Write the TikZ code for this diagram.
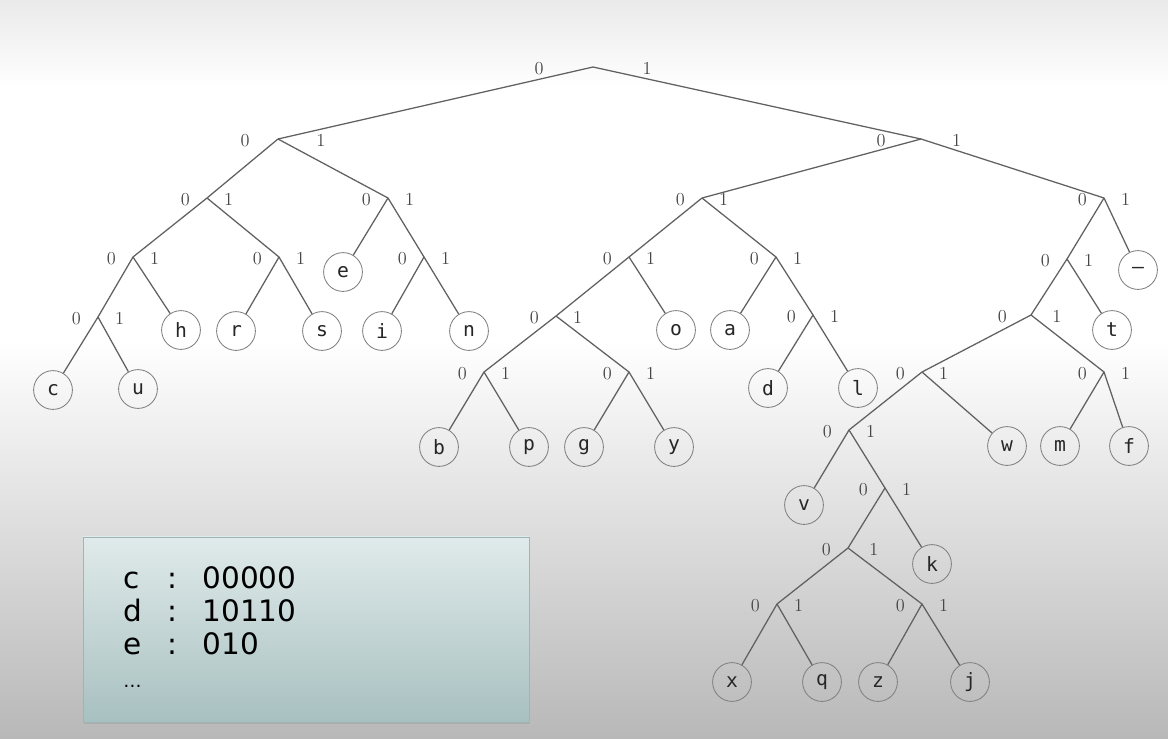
\documentclass[tikz,border=0pt]{standalone}
\usepackage{fontspec}
\newfontfamily\leaffont{DejaVu Sans Mono}
\newfontfamily\codefont{DejaVu Sans}
\usepackage{tikz}
\usetikzlibrary{shadows}

\definecolor{bgtop}{HTML}{EAEAEA}
\definecolor{bgbot}{HTML}{B8B8B8}
\definecolor{boxtop}{HTML}{E0EAEA}
\definecolor{boxbot}{HTML}{A8C0C0}
\definecolor{boxline}{HTML}{9DB5B5}

\begin{document}
\begin{tikzpicture}[x=0.025cm, y=-0.025cm,
    tree/.style={draw=black!62, line width=0.9pt, line join=round},
    leaf/.style={draw=black!50, circle, line width=0.6pt, minimum size=0.97cm, inner sep=0pt,
      text=black!85, font=\leaffont\fontsize{14}{14}\selectfont},
    bitlbl/.style={text=black!72, inner sep=1pt, yshift=-1pt, font=\fontsize{13}{13}\selectfont},
    junction/.style 2 args={label={[bitlbl, label distance=#1]left:0},
      label={[bitlbl, label distance=#2]right:1}},
    fork/.style={junction={11pt}{11pt}},
    codebox/.style={draw=boxline, line width=0.5pt, top color=boxtop, bottom color=boxbot,
      drop shadow={opacity=0.25, shadow xshift=1pt, shadow yshift=-1.2pt},
      minimum width=11.15cm, minimum height=4.625cm, inner sep=0pt}]
  \useasboundingbox (0,0) rectangle (1168,738);

  % Fondo
  \shade[top color=bgtop, bottom color=white] (0,0) rectangle (1168,88);
  \fill[white] (0,88) rectangle (1168,340);
  \shade[top color=white, bottom color=bgbot] (0,340) rectangle (1168,738);

  % Nodos internos
  \coordinate[junction={34pt}{34pt}] (root) at (593,67);
  \coordinate[junction={19pt}{26pt}] (n0) at (278,139);
  \coordinate[fork] (n00) at (207,198);
  \coordinate[fork] (n000) at (133,257);
  \coordinate[fork] (n0000) at (98,317);
  \coordinate[fork] (n001) at (279,257);
  \coordinate[fork] (n01) at (388,198);
  \coordinate[fork] (n011) at (424,257);
  \coordinate[junction={24pt}{21pt}] (n1) at (921,139);
  \coordinate[fork] (n10) at (702,198);
  \coordinate[fork] (n100) at (629,257);
  \coordinate[fork] (n1000) at (556,316);
  \coordinate[fork] (n10000) at (484,372);
  \coordinate[fork] (n10001) at (629,372);
  \coordinate[fork] (n101) at (776,257);
  \coordinate[fork] (n1011) at (813,315);
  \coordinate[fork] (n11) at (1104,198);
  \coordinate[fork] (n110) at (1067,259);
  \coordinate[junction={16pt}{14pt}] (n1100) at (1031,315);
  \coordinate[fork] (n11000) at (922,372);
  \coordinate[fork] (n11001) at (1104,372);
  \coordinate[fork] (n110000) at (849,430);
  \coordinate[fork] (n1100001) at (885,488);
  \coordinate[junction={11pt}{14pt}] (n11000010) at (848,548);
  \coordinate[fork] (n110000100) at (777,604);
  \coordinate[fork] (n110000101) at (922,604);

  % Hojas
  \node[leaf] (c) at (53,390) {c};
  \node[leaf] (u) at (138,389) {u};
  \node[leaf] (h) at (181,330) {h};
  \node[leaf] (r) at (236,331) {r};
  \node[leaf] (s) at (322,331) {s};
  \node[leaf] (e) at (343,272) {e};
  \node[leaf] (i) at (382,331) {i};
  \node[leaf] (n) at (469,331) {n};
  \node[leaf] (b) at (439,447) {b};
  \node[leaf] (p) at (529,447) {p};
  \node[leaf] (g) at (584,447) {g};
  \node[leaf] (y) at (674,447) {y};
  \node[leaf] (o) at (676,330) {o};
  \node[leaf] (a) at (730,330) {a};
  \node[leaf] (d) at (768,388) {d};
  \node[leaf] (l) at (858,388) {l};
  \node[leaf] (sp) at (1138,270) {—};
  \node[leaf] (t) at (1112,330) {t};
  \node[leaf] (w) at (1007,446) {w};
  \node[leaf] (m) at (1060,446) {m};
  \node[leaf] (f) at (1129,446) {f};
  \node[leaf] (v) at (804,505) {v};
  \node[leaf] (k) at (932,564) {k};
  \node[leaf] (x) at (732,682) {x};
  \node[leaf] (q) at (822,682) {q};
  \node[leaf] (z) at (878,682) {z};
  \node[leaf] (j) at (970,682) {j};

  % Aristas
  \draw[tree] (n0) -- (root) -- (n1);
  \draw[tree] (n00) -- (n0) -- (n01);
  \draw[tree] (n000) -- (n00) -- (n001);
  \draw[tree] (n0000) -- (n000) -- (h);
  \draw[tree] (c) -- (n0000) -- (u);
  \draw[tree] (r) -- (n001) -- (s);
  \draw[tree] (e) -- (n01) -- (n011);
  \draw[tree] (i) -- (n011) -- (n);
  \draw[tree] (n10) -- (n1) -- (n11);
  \draw[tree] (n100) -- (n10) -- (n101);
  \draw[tree] (n1000) -- (n100) -- (o);
  \draw[tree] (n10000) -- (n1000) -- (n10001);
  \draw[tree] (b) -- (n10000) -- (p);
  \draw[tree] (g) -- (n10001) -- (y);
  \draw[tree] (a) -- (n101) -- (n1011);
  \draw[tree] (d) -- (n1011) -- (l);
  \draw[tree] (n110) -- (n11) -- (sp);
  \draw[tree] (n1100) -- (n110) -- (t);
  \draw[tree] (n11000) -- (n1100) -- (n11001);
  \draw[tree] (n110000) -- (n11000) -- (w);
  \draw[tree] (v) -- (n110000) -- (n1100001);
  \draw[tree] (n11000010) -- (n1100001) -- (k);
  \draw[tree] (n110000100) -- (n11000010) -- (n110000101);
  \draw[tree] (x) -- (n110000100) -- (q);
  \draw[tree] (z) -- (n110000101) -- (j);
  \draw[tree] (m) -- (n11001) -- (f);

  % Tabla de codigos
  \node[codebox] (box) at (306,629.5) {};
  \node[anchor=base west, inner sep=0pt, text=black] (codes) at (123,588)
    {\codefont\fontsize{21}{23.5}\selectfont
     \begin{tabular}[t]{@{}l@{\hspace{18pt}}l@{\hspace{18pt}}l@{}}
       c & : & 00000\\
       d & : & 10110\\
       e & : & 010\\
       {\fontsize{13}{13}\selectfont …} & & \\
     \end{tabular}};
\end{tikzpicture}
\end{document}
